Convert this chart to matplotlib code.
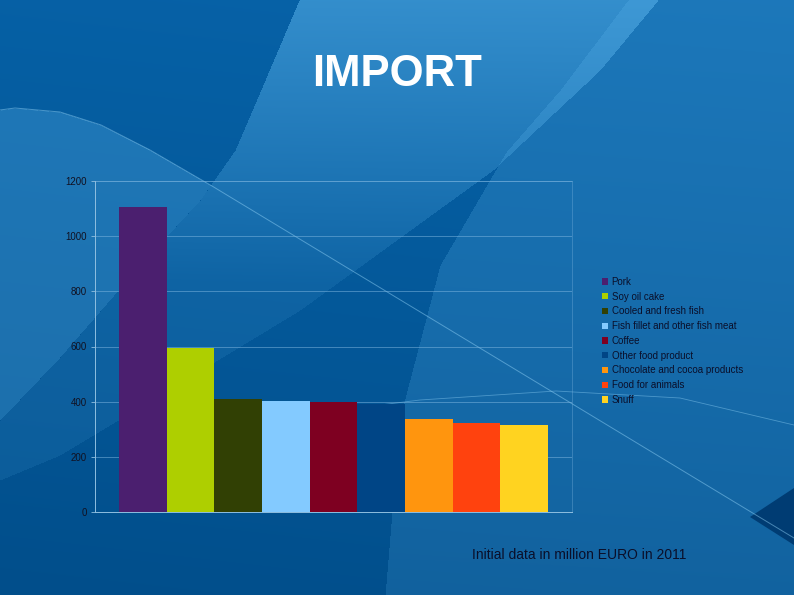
import matplotlib.pyplot as plt
import numpy as np

# dati (milioni di EURO, 2011)
categorie = ['Pork', 'Soy oil cake', 'Cooled and fresh fish', 'Fish fillet and other fish meat',
             'Coffee', 'Other food product', 'Chocolate and cocoa products', 'Food for animals', 'Snuff']
valori = [1106, 596, 410, 402, 399, 390, 337, 324, 317]
colori = ['#4b1f6f', '#aecf00', '#314004', '#83caff', '#7e0021',
          '#004586', '#ff950e', '#ff420e', '#ffd320']
yticks = [0, 200, 400, 600, 800, 1000, 1200]

plt.rcParams['font.family'] = ['Liberation Sans', 'DejaVu Sans']

fig = plt.figure(figsize=(7.94, 5.95), dpi=100)

# sfondo stile diapositiva (solo decorazione)
bg = fig.add_axes([0, 0, 1, 1], zorder=-1)
bg.set_xlim(0, 794)
bg.set_ylim(595, 0)
bg.axis('off')
yy, xx = np.mgrid[0:595, 0:794].astype(float)
c1 = np.array([0.03, 0.40, 0.68])
c2 = np.array([0.00, 0.29, 0.52])
t = np.clip(0.2 + 0.65 * (yy / 595) - 0.1 * (xx / 794), 0, 1)
img = c1 * (1 - t[..., None]) + c2 * t[..., None]
chiaro = np.array([0.35, 0.70, 0.92])

def schiarisci(img, maschera, forza):
    a = (maschera * forza)[..., None]
    return img * (1 - a) + chiaro * a

# zona chiara a destra
xrc = np.interp(yy, [0, 90, 152, 265, 417, 595], [628, 560, 506, 440, 400, 385])
img = schiarisci(img, xx > xrc, 0.18 + 0.08 * (1 - yy / 595))
# fascia chiara dall'alto al centro
xl = np.interp(yy, [0, 80, 150, 200, 265, 357, 420, 1000], [299, 265, 235, 200, 140, 60, 0, -2000])
xr = np.interp(yy, [0, 70, 170, 310, 395, 455, 480, 1000], [658, 600, 493, 300, 160, 60, 0, -2000])
band = (xx > xl) & (xx < xr)
img = schiarisci(img, band, np.clip(0.55 - 0.9 * yy / 595, 0.12, 1))
# zona chiara a sinistra
curva = np.interp(xx, [0, 15, 60, 101, 150, 212, 794], [110, 108, 112, 125, 150, 186, 538])
img = schiarisci(img, (yy > curva) & (xx < xl) & (yy < 430), 0.3)
bg.imshow(img, extent=(0, 794, 595, 0), aspect='auto', interpolation='bilinear')

# linee sottili
bg.plot([0, 15, 60, 101, 150, 212, 794], [110, 108, 112, 125, 150, 186, 538],
        color='#8fd0f5', lw=0.7, alpha=0.5)
bg.plot([340, 420, 556, 680, 794], [410, 400, 391, 398, 425], color='#8fd0f5', lw=0.6, alpha=0.45)
# angolo scuro in basso a destra
bg.fill([750, 794, 794], [517, 488, 545], color='#003c73', lw=0)

# titolo
fig.text(0.5, 1 - 75 / 595, 'IMPORT', color='white', fontsize=31.5, fontweight='bold',
         ha='center', va='center')

ax = fig.add_axes([95 / 794, 1 - 512 / 595, 477 / 794, 331 / 595])
ax.set_facecolor('none')
x = np.arange(len(valori))
bars = ax.bar(x, valori, width=1.0, color=colori, label=categorie, zorder=3)
ax.set_xlim(-1.01, len(valori) - 1 + 1.01)
ax.set_ylim(0, 1200)
ax.set_yticks(yticks)
ax.set_yticklabels([str(v) for v in yticks], fontsize=7, color='#111122')
ax.set_xticks([])
ax.grid(axis='y', color='#7fb6e0', lw=0.6, alpha=0.6, zorder=0)
for lato in ['top', 'right']:
    ax.spines[lato].set_color('#7fb6e0')
    ax.spines[lato].set_alpha(0.4)
    ax.spines[lato].set_linewidth(0.6)
for lato in ['left', 'bottom']:
    ax.spines[lato].set_color('#8fbfe0')
    ax.spines[lato].set_linewidth(0.7)
ax.tick_params(axis='y', length=3, width=0.6, color='#8fbfe0', pad=3)

leg = fig.legend(handles=bars, labels=categorie, loc='upper left',
                 bbox_to_anchor=(598 / 794, 1 - 273 / 595), frameon=False,
                 fontsize=7, handlelength=0.6, handleheight=0.6, handletextpad=0.4,
                 labelspacing=0.49, borderaxespad=0)
for testo in leg.get_texts():
    testo.set_color('#0a0f2a')

fig.text(472 / 794, 1 - 555 / 595, 'Initial data in million EURO in 2011',
         fontsize=10, color='#0a0f2a', ha='left', va='center')

fig.savefig('out.png', dpi=100)
